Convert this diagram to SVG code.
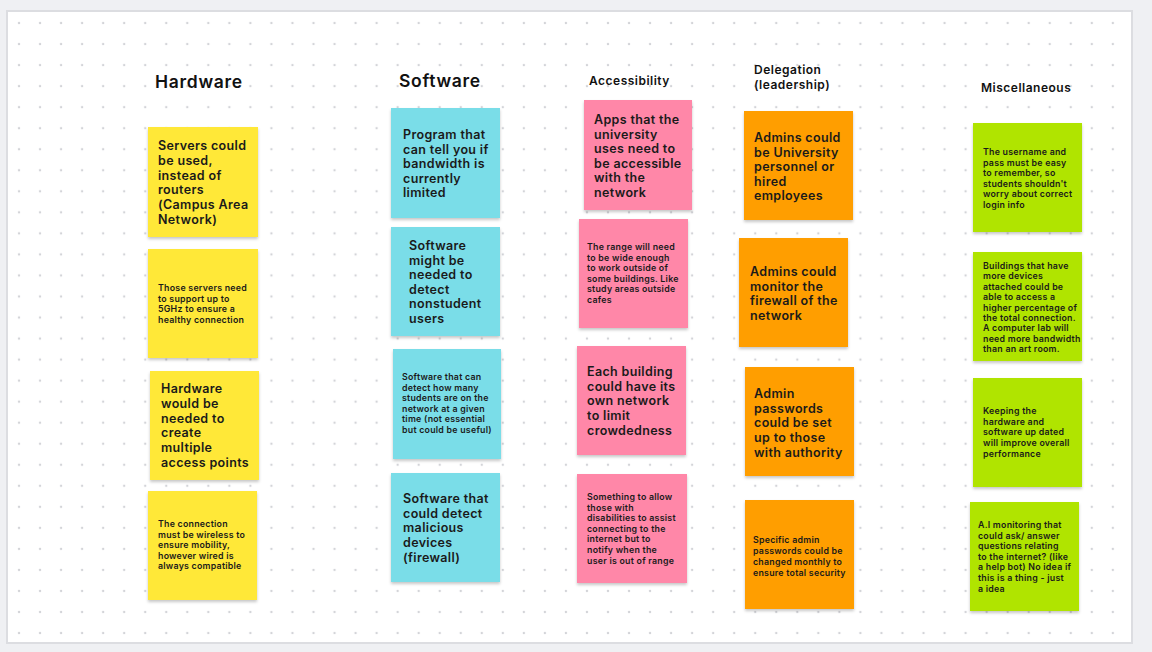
<svg xmlns="http://www.w3.org/2000/svg" width="1152" height="652" viewBox="0 0 1152 652">
<defs>
<pattern id="dots" patternUnits="userSpaceOnUse" x="8.5" y="12.5" width="21.035" height="21.035">
<circle cx="10.5" cy="10.5" r="1.2" fill="#d3d4d8"/>
</pattern>
<filter id="sh" x="-10%" y="-10%" width="120%" height="125%">
<feDropShadow dx="0" dy="2" stdDeviation="1.5" flood-color="#000" flood-opacity="0.22"/>
</filter>
<style>
.title{font-family:"Inter","Liberation Sans",sans-serif;font-weight:600;fill:#111;}
.t1{font-size:17.5px;letter-spacing:0.7px;}
.t2{font-size:12px;letter-spacing:0.5px;}
.big{font-family:"Inter","Liberation Sans",sans-serif;font-weight:600;font-size:12.5px;letter-spacing:0.35px;fill:#1a1a1a;}
.small{font-family:"Inter","Liberation Sans",sans-serif;font-weight:600;font-size:8.8px;letter-spacing:0.25px;fill:#1a1a1a;}
.y{fill:#ffe838;filter:url(#sh);}
.c{fill:#7adde8;filter:url(#sh);}
.p{fill:#ff87a8;filter:url(#sh);}
.o{fill:#ff9e05;filter:url(#sh);}
.g{fill:#b0e400;filter:url(#sh);}
</style>
</defs>
<rect x="0" y="0" width="1152" height="652" fill="#eff0f3"/>
<rect x="7" y="11" width="1125" height="632" fill="#ffffff" stroke="#dcdde1" stroke-width="2"/>
<rect x="8" y="12" width="1123" height="630" fill="url(#dots)"/>

<g id="titles">
<text class="title t1" x="155" y="88">Hardware</text>
<text class="title t1" x="399" y="87">Software</text>
<text class="title t2" x="589" y="85">Accessibility</text>
<text class="title t2" x="754" y="74">Delegation<tspan x="754" dy="15">(leadership)</tspan></text>
<text class="title t2" x="981" y="92">Miscellaneous</text>
</g>

<g id="h1"><rect class="y" x="148" y="127" width="110" height="110"/>
<text class="big" x="158" y="150">Servers could<tspan x="158" dy="14.8">be used,</tspan><tspan x="158" dy="14.8">instead of</tspan><tspan x="158" dy="14.8">routers</tspan><tspan x="158" dy="14.8">(Campus Area</tspan><tspan x="158" dy="14.8">Network)</tspan></text></g>
<g id="h2"><rect class="y" x="148" y="249" width="110" height="109"/>
<text class="small" x="158" y="291">Those servers need<tspan x="158" dy="10.7">to support up to</tspan><tspan x="158" dy="10.7">5GHz to ensure a</tspan><tspan x="158" dy="10.7">healthy connection</tspan></text></g>
<g id="h3"><rect class="y" x="150" y="371" width="109" height="109"/>
<text class="big" x="161" y="393">Hardware<tspan x="161" dy="14.8">would be</tspan><tspan x="161" dy="14.8">needed to</tspan><tspan x="161" dy="14.8">create</tspan><tspan x="161" dy="14.8">multiple</tspan><tspan x="161" dy="14.8">access points</tspan></text></g>
<g id="h4"><rect class="y" x="148" y="491" width="109" height="109"/>
<text class="small" x="158" y="527">The connection<tspan x="158" dy="10.6">must be wireless to</tspan><tspan x="158" dy="10.6">ensure mobility,</tspan><tspan x="158" dy="10.6">however wired is</tspan><tspan x="158" dy="10.6">always compatible</tspan></text></g>

<g id="s1"><rect class="c" x="391" y="108" width="109" height="110"/>
<text class="big" x="403" y="139">Program that<tspan x="403" dy="14.6">can tell you if</tspan><tspan x="403" dy="14.6">bandwidth is</tspan><tspan x="403" dy="14.6">currently</tspan><tspan x="403" dy="14.6">limited</tspan></text></g>
<g id="s2"><rect class="c" x="391" y="227" width="109" height="109"/>
<text class="big" x="409" y="250">Software<tspan x="409" dy="14.6">might be</tspan><tspan x="409" dy="14.6">needed to</tspan><tspan x="409" dy="14.6">detect</tspan><tspan x="409" dy="14.6">nonstudent</tspan><tspan x="409" dy="14.6">users</tspan></text></g>
<g id="s3"><rect class="c" x="393" y="349" width="108" height="110"/>
<text class="small" x="402" y="380">Software that can<tspan x="402" dy="10.6">detect how many</tspan><tspan x="402" dy="10.6">students are on the</tspan><tspan x="402" dy="10.6">network at a given</tspan><tspan x="402" dy="10.6">time (not essential</tspan><tspan x="402" dy="10.6">but could be useful)</tspan></text></g>
<g id="s4"><rect class="c" x="391" y="473" width="109" height="109"/>
<text class="big" x="403" y="503">Software that<tspan x="403" dy="14.7">could detect</tspan><tspan x="403" dy="14.7">malicious</tspan><tspan x="403" dy="14.7">devices</tspan><tspan x="403" dy="14.7">(firewall)</tspan></text></g>

<g id="a1"><rect class="p" x="584" y="100" width="108" height="110"/>
<text class="big" x="594" y="124">Apps that the<tspan x="594" dy="14.6">university</tspan><tspan x="594" dy="14.6">uses need to</tspan><tspan x="594" dy="14.6">be accessible</tspan><tspan x="594" dy="14.6">with the</tspan><tspan x="594" dy="14.6">network</tspan></text></g>
<g id="a2"><rect class="p" x="579" y="219" width="109" height="109"/>
<text class="small" x="587" y="250">The range will need<tspan x="587" dy="10.6">to be wide enough</tspan><tspan x="587" dy="10.6">to work outside of</tspan><tspan x="587" dy="10.6">some buildings. Like</tspan><tspan x="587" dy="10.6">study areas outside</tspan><tspan x="587" dy="10.6">cafes</tspan></text></g>
<g id="a3"><rect class="p" x="577" y="346" width="109" height="109"/>
<text class="big" x="587" y="376">Each building<tspan x="587" dy="14.7">could have its</tspan><tspan x="587" dy="14.7">own network</tspan><tspan x="587" dy="14.7">to limit</tspan><tspan x="587" dy="14.7">crowdedness</tspan></text></g>
<g id="a4"><rect class="p" x="577" y="474" width="110" height="109"/>
<text class="small" x="587" y="500">Something to allow<tspan x="587" dy="10.6">those with</tspan><tspan x="587" dy="10.6">disabilities to assist</tspan><tspan x="587" dy="10.6">connecting to the</tspan><tspan x="587" dy="10.6">internet but to</tspan><tspan x="587" dy="10.6">notify when the</tspan><tspan x="587" dy="10.6">user is out of range</tspan></text></g>

<g id="d1"><rect class="o" x="744" y="111" width="109" height="109"/>
<text class="big" x="754" y="142">Admins could<tspan x="754" dy="14.6">be University</tspan><tspan x="754" dy="14.6">personnel or</tspan><tspan x="754" dy="14.6">hired</tspan><tspan x="754" dy="14.6">employees</tspan></text></g>
<g id="d2"><rect class="o" x="739" y="238" width="109" height="109"/>
<text class="big" x="750" y="276">Admins could<tspan x="750" dy="14.6">monitor the</tspan><tspan x="750" dy="14.6">firewall of the</tspan><tspan x="750" dy="14.6">network</tspan></text></g>
<g id="d3"><rect class="o" x="745" y="367" width="109" height="109"/>
<text class="big" x="754" y="398">Admin<tspan x="754" dy="14.7">passwords</tspan><tspan x="754" dy="14.7">could be set</tspan><tspan x="754" dy="14.7">up to those</tspan><tspan x="754" dy="14.7">with authority</tspan></text></g>
<g id="d4"><rect class="o" x="745" y="500" width="109" height="109"/>
<text class="small" x="753" y="543">Specific admin<tspan x="753" dy="10.9">passwords could be</tspan><tspan x="753" dy="10.9">changed monthly to</tspan><tspan x="753" dy="10.9">ensure total security</tspan></text></g>

<g id="m1"><rect class="g" x="973" y="123" width="109" height="109"/>
<text class="small" x="983" y="155">The username and<tspan x="983" dy="10.6">pass must be easy</tspan><tspan x="983" dy="10.6">to remember, so</tspan><tspan x="983" dy="10.6">students shouldn't</tspan><tspan x="983" dy="10.6">worry about correct</tspan><tspan x="983" dy="10.6">login info</tspan></text></g>
<g id="m2"><rect class="g" x="973" y="252" width="109" height="109"/>
<text class="small" x="983" y="269">Buildings that have<tspan x="983" dy="10.4">more devices</tspan><tspan x="983" dy="10.4">attached could be</tspan><tspan x="983" dy="10.4">able to access a</tspan><tspan x="983" dy="10.4">higher percentage of</tspan><tspan x="983" dy="10.4">the total connection.</tspan><tspan x="983" dy="10.4">A computer lab will</tspan><tspan x="983" dy="10.4">need more bandwidth</tspan><tspan x="983" dy="10.4">than an art room.</tspan></text></g>
<g id="m3"><rect class="g" x="973" y="378" width="109" height="109"/>
<text class="small" x="983" y="414">Keeping the<tspan x="983" dy="10.7">hardware and</tspan><tspan x="983" dy="10.7">software up dated</tspan><tspan x="983" dy="10.7">will improve overall</tspan><tspan x="983" dy="10.7">performance</tspan></text></g>
<g id="m4"><rect class="g" x="970" y="502" width="109" height="109"/>
<text class="small" x="978" y="528">A.I monitoring that<tspan x="978" dy="10.6">could ask/ answer</tspan><tspan x="978" dy="10.6">questions relating</tspan><tspan x="978" dy="10.6">to the internet? (like</tspan><tspan x="978" dy="10.6">a help bot) No idea if</tspan><tspan x="978" dy="10.6">this is a thing - just</tspan><tspan x="978" dy="10.6">a idea</tspan></text></g>
</svg>
